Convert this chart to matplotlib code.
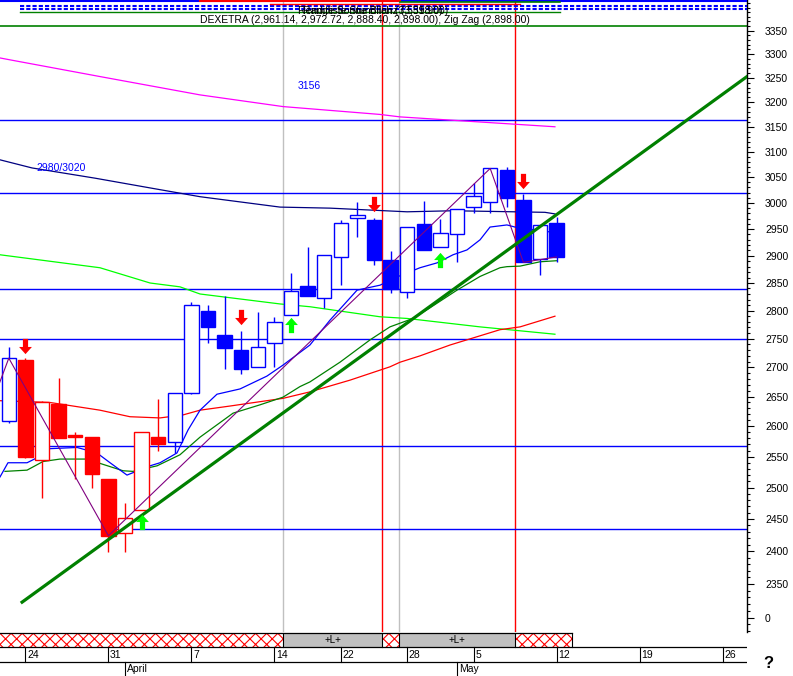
import matplotlib
matplotlib.use("Agg")
import matplotlib.pyplot as plt
from matplotlib.path import Path
from matplotlib.patches import Rectangle
from matplotlib.ticker import FixedLocator, FixedFormatter, NullFormatter

plt.rcParams['font.family'] = ['Liberation Sans', 'DejaVu Sans']
plt.rcParams['hatch.linewidth'] = 0.8

# trading day index, 0 = Mon 24 March 2003
days = list(range(-1, 33))
opens = [2609, 2713, 2545, 2637, 2586, 2582, 2514, 2428, 2464, 2582, 2574,
         2656, 2799, 2757, 2730, 2700, 2742, 2792, 2845, 2822, 2898, 2971,
         2967, 2893, 2834, 2960, 2916, 2940, 2993, 3002, 3064, 3006, 2894, 2961.14]
highs = [2735, 2716, 2642, 2682, 2591, 2582, 2514, 2475, 2591, 2646, 2656,
         2816, 2810, 2826, 2764, 2798, 2789, 2868, 2916, 2902, 2967, 3001,
         2971, 2909, 2954, 3004, 2969, 2988, 3038, 3067, 3070, 3017, 2957, 2972.72]
lows = [2606, 2548, 2483, 2580, 2514, 2500, 2399, 2399, 2464, 2560, 2556,
        2655, 2742, 2698, 2688, 2700, 2701, 2792, 2827, 2804, 2846, 2936,
        2883, 2831, 2823, 2910, 2916, 2889, 2980, 2980, 2992, 2888, 2865, 2888.40]
closes = [2716, 2550, 2641, 2581, 2583, 2522, 2424, 2452, 2590, 2571, 2656,
          2810, 2770, 2734, 2698, 2735, 2779, 2835, 2827, 2902, 2961, 2977,
          2892, 2839, 2954, 2910, 2942, 2988, 3014, 3067, 3009, 2888, 2957, 2898.00]
signal = ['L'] + ['S'] * 9 + ['L'] * 24

# moving averages
ma_fast_x = [-1.53, -1.05, 0.1, 1.06, 1.48, 3.11, 4.31, 5.1, 6.12, 7.51, 8.11, 9.13,
             9.8, 10.52, 11.54, 12.93, 14.55, 15.52, 17.14, 18.35, 19.98, 21.36,
             22.39, 23.77, 24.8, 25.76, 26.6, 27.39, 27.99, 29.01, 29.98, 30.82, 31.9]
ma_fast = [2517, 2540, 2540, 2553, 2563, 2565, 2556, 2540, 2520, 2535, 2540, 2556,
           2594, 2627, 2654, 2663, 2685, 2704, 2739, 2783, 2837, 2846,
           2861, 2878, 2887, 2902, 2911, 2930, 2954, 2958, 2950, 2949, 2943]
ma_mid_x = [-1.23, 0.1, 1.06, 2.08, 3.71, 4.49, 5.88, 6.48, 7.93, 9.31, 10.52, 11.12,
            12.51, 14.13, 15.52, 16.54, 17.14, 18.95, 20.76, 21.96, 23.35, 24.37,
            26.0, 27.39, 28.59, 29.01, 29.8, 31.0, 32.02]
ma_mid = [2526, 2528, 2542, 2546, 2546, 2539, 2527, 2526, 2535, 2553, 2582, 2594,
          2622, 2636, 2649, 2667, 2675, 2709, 2748, 2771, 2786, 2805,
          2837, 2862, 2878, 2880, 2881, 2889, 2891]
ma_red_x = [-1.53, 1.48, 4.49, 6.3, 8.11, 9.49, 10.52, 12.33, 15.52, 17.14, 19.55,
            21.96, 22.57, 23.77, 25.58, 28.59, 29.8, 31.9]
ma_red = [2643, 2640, 2627, 2616, 2614, 2619, 2627, 2634, 2647, 2658, 2678,
          2701, 2709, 2720, 2739, 2766, 2771, 2790]
ma_lime_x = [-1.53, 4.49, 7.51, 9.31, 10.52, 15.34, 17.14, 21.36, 22.99, 27.39, 31.9]
ma_lime = [2902, 2878, 2850, 2843, 2830, 2812, 2807, 2789, 2786, 2771, 2758]
ma_navy_x = [-1.53, 0.4, 4.19, 7.51, 10.52, 15.34, 18.35, 22.99, 25.76, 31.3, 31.9]
ma_navy = [3084, 3068, 3048, 3029, 3012, 2992, 2990, 2983, 2985, 2982, 2979]
ma_long_x = [-1.53, -0.93, 4.49, 10.52, 15.52, 21.36, 22.57, 31.9]
ma_long = [3292, 3288, 3253, 3215, 3191, 3175, 3170, 3150]

zz_days = [-2, -1, 5, 28, 30, 32]
zz_vals = [2640, 2716, 2424, 3067, 2888, 2898]
trend_days = [-0.2, 43.47]
trend_vals = [2323, 3253]

top_level = 3360
levels = [3164, 3020, 2839, 2750, 2567, 2434]
sell_days = [0, 13, 21, 30]
sell_vals = [2738, 2788, 2997, 3043]
buy_days = [7, 16, 25]
buy_vals = [2446, 2774, 2892]
red_marks = [21.5, 29.5]
gray_marks = [15.5, 22.5]

band_edges = [-1.53, 15.5, 21.5, 22.5, 29.5, 32.95]
band_state = ['S', 'L', 'S', 'L', 'S']

date_days = [0, 5, 10, 15, 19, 23, 27, 32, 37, 42]
date_labels = ['24', '31', '7', '14', '22', '28', '5', '12', '19', '26']
month_days = [6, 26]
month_labels = ['April', 'May']

yticks = [2300, 2350, 2400, 2450, 2500, 2550, 2600, 2650, 2700, 2750, 2800,
          2850, 2900, 2950, 3000, 3050, 3100, 3150, 3200, 3250, 3300, 3350]
ytick_labels = ['0'] + [str(v) for v in yticks[1:]]

W, H = 793, 676
XL = (-25.4 / 16.6, (747 - 25.4) / 16.6)

fig = plt.figure(figsize=(W / 100, H / 100), dpi=100)
ax = fig.add_axes([0, 1 - 632 / H, 747 / W, 632 / H])
ax.set_yscale('log')
ax.set_xlim(*XL)
ax.set_ylim(2279, 3416.5)

for s in ['left', 'top', 'bottom']:
    ax.spines[s].set_visible(False)
ax.spines['right'].set_linewidth(1.0)
ax.xaxis.set_visible(False)
ax.yaxis.tick_right()
ax.yaxis.set_major_locator(FixedLocator(yticks))
ax.yaxis.set_major_formatter(FixedFormatter(ytick_labels))
ax.yaxis.set_minor_locator(FixedLocator(list(range(2280, 3420, 10))))
ax.yaxis.set_minor_formatter(NullFormatter())
ax.tick_params(axis='y', which='major', length=5, width=0.8, labelsize=7.5, pad=8)
ax.tick_params(axis='y', which='minor', length=2.5, width=0.8)

# vertical markers
for d in gray_marks:
    ax.axvline(d, color='#c0c0c0', lw=1.0, zorder=1)
for d in red_marks:
    ax.axvline(d, color='#ff0000', lw=1.0, zorder=1)

# horizontal levels
ax.axhline(top_level, color='#008000', lw=1.2, zorder=1)
for v in levels:
    ax.axhline(v, color='#0000ff', lw=1.0, zorder=1)

# moving averages
ax.plot(ma_long_x, ma_long, color='#ff00ff', lw=0.9, zorder=2)
ax.plot(ma_navy_x, ma_navy, color='#000080', lw=0.9, zorder=2)
ax.plot(ma_lime_x, ma_lime, color='#00ff00', lw=0.9, zorder=2)
ax.plot(ma_red_x, ma_red, color='#ff0000', lw=0.9, zorder=2)
ax.plot(ma_mid_x, ma_mid, color='#008000', lw=0.9, zorder=2)
ax.plot(ma_fast_x, ma_fast, color='#0000ff', lw=0.9, zorder=2)

# candles
for d, o, h, l, c, s in zip(days, opens, highs, lows, closes, signal):
    col = '#ff0000' if s == 'S' else '#0000ff'
    ax.vlines(d, l, h, color=col, lw=1.0, zorder=3)
    fc = 'white' if c >= o else col
    ax.add_patch(Rectangle((d - 0.43, min(o, c)), 0.86, abs(c - o),
                           facecolor=fc, edgecolor=col, lw=1.0, zorder=4))

# zig zag and trend line
ax.plot(zz_days, zz_vals, color='#800080', lw=0.8, zorder=5)
ax.plot(trend_days, trend_vals, color='#008000', lw=2.3, zorder=5)

# signal arrows
arrow_dn = Path([(-0.17, 0.5), (0.17, 0.5), (0.17, -0.03), (0.42, -0.03), (0, -0.5),
                 (-0.42, -0.03), (-0.17, -0.03), (-0.17, 0.5)], closed=True)
arrow_up = Path([(x, -y) for x, y in arrow_dn.vertices], closed=True)
ax.scatter(sell_days, sell_vals, marker=arrow_dn, s=11 ** 2, color='#ff0000',
           linewidths=0, zorder=6)
ax.scatter(buy_days, buy_vals, marker=arrow_up, s=11 ** 2, color='#00ff00',
           linewidths=0, zorder=6)

ax.text(17.1, 3233, '3156', color='#0000ff', fontsize=7.5, ha='center', va='center')
ax.text(2.17, 3068, '2980/3020', color='#0000ff', fontsize=7.5, ha='center', va='center')

# header legend clutter
fig.text(365 / W, 1 - 20 / H,
         'DEXETRA (2,961.14, 2,972.72, 2,888.40, 2,898.00), Zig Zag (2,898.00)',
         fontsize=7.5, ha='center', va='center')
fig.text(373 / W, 1 - 11 / H, 'Rangliste Stundlich (3,531.90)', fontsize=7.5,
         ha='center', va='center')
fig.text(373 / W, 1 - 11 / H, 'Rendite Sonne Bilanz (3,598.00)', fontsize=7.5,
         ha='center', va='center')
hdr = fig.add_axes([0, 1 - 14 / H, 747 / W, 14 / H])
hdr.set_xlim(0, 747)
hdr.set_ylim(14, 0)
hdr.axis('off')
hdr.plot([0, 747], [1, 1], color='#0000ff', lw=1.5)
hdr.plot([200, 400], [1, 1], color='#ff0000', lw=1.5)
hdr.plot([400, 560], [1.5, 1.5], color='#008000', lw=1.2)
hdr.plot([20, 747], [6, 6], color='#0000ff', lw=1.5, ls=(0, (2, 1)))
hdr.plot([20, 747], [9, 9], color='#0000ff', lw=1.5, ls=(0, (2, 1)))
hdr.plot([20, 560], [11.5, 11.5], color='#008000', lw=1.0)
hdr.plot([270, 520], [4, 4], color='#ff0000', lw=1.0)

# signal band and date axis
low = fig.add_axes([0, 0, 747 / W, 44 / H])
low.set_xlim(*XL)
low.set_ylim(44, 0)
low.axis('off')
for (x0, x1), s in zip(zip(band_edges[:-1], band_edges[1:]), band_state):
    if s == 'S':
        low.add_patch(Rectangle((x0, 1.3), x1 - x0, 14, facecolor='white',
                                edgecolor='#ff0000', hatch='xxx', lw=0))
    else:
        low.add_patch(Rectangle((x0, 1.3), x1 - x0, 14, facecolor='#c0c0c0', lw=0))
        low.text((x0 + x1) / 2, 8.3, '+L+', fontsize=7, ha='center', va='center')
    low.plot([x1, x1], [1.3, 15.3], color='black', lw=0.8)
low.plot([band_edges[0], band_edges[-1]], [1.3, 1.3], color='black', lw=0.9)
low.plot([XL[0], XL[1]], [15.3, 15.3], color='black', lw=0.9)
low.plot([XL[0], XL[1]], [29.8, 29.8], color='black', lw=0.9)
for d, lab in zip(date_days, date_labels):
    low.plot([d, d], [15.3, 29.8], color='black', lw=0.8)
    low.text(d + 0.1, 23, lab, fontsize=7.5, ha='left', va='center')
for d, lab in zip(month_days, month_labels):
    low.plot([d, d], [29.8, 44], color='black', lw=0.8)
    low.text(d + 0.1, 37.5, lab, fontsize=7.5, ha='left', va='center')

fig.text(768 / W, 1 - 663 / H, '?', fontsize=12, fontweight='bold',
         ha='center', va='center')

fig.savefig('out.png', dpi=100)
